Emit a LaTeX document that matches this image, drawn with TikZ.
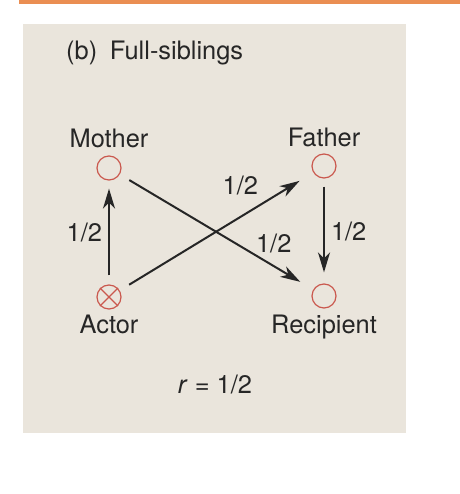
\documentclass[tikz,border=0pt]{standalone}
\usepackage{fontspec}
\setmainfont{TeX Gyre Heros}
\usetikzlibrary{calc,arrows.meta}
\definecolor{panel}{RGB}{234,229,220}
\definecolor{band}{RGB}{234,142,82}
\definecolor{ink}{RGB}{38,38,38}
\definecolor{ring}{RGB}{202,88,78}

\begin{document}
\begin{tikzpicture}[x=1bp,y=-1bp,
  person/.style={circle,draw=ring,line width=1.2bp,minimum size=24bp,inner sep=0pt},
  gene/.style={line width=2bp,draw=ink,-{Stealth[length=20bp,width=12bp,inset=6bp]}},
  lbl/.style={text=ink,font=\fontsize{25.5}{30}\selectfont,inner sep=0pt,anchor=base}]
\useasboundingbox (0,0) rectangle (460,494);
\fill[band] (19,0) rectangle (460,4);
\fill[panel] (23,24) rectangle (406,433);
\node[lbl,anchor=base west] (title) at (66,60) {(b)\hspace{0.5em}Full-siblings};
% the four individuals
\node[person] (mother) at (109,168) {};
\node[person] (father) at (324,166) {};
\node[person] (actor) at (109,297) {};
\node[person] (recipient) at (324,296) {};
\draw[ring,line width=1.2bp] (actor.north east) -- (actor.south west)
  (actor.north west) -- (actor.south east);
\node[lbl] (motherlab) at ($(mother)+(0,-20)$) {Mother};
\node[lbl] (fatherlab) at ($(father)+(0,-19)$) {Father};
\node[lbl] (actorlab) at ($(actor)+(0,36)$) {Actor};
\node[lbl] (recipientlab) at ($(recipient)+(0,37)$) {Recipient};
% genes passed on
\draw[gene,shorten <=9bp,shorten >=8bp] (actor) --
  node[lbl,midway,anchor=east,xshift=-6bp] (amlab) {1/2} (mother);
\draw[gene,shorten <=8bp,shorten >=11bp] (father) --
  node[lbl,midway,anchor=west,xshift=6bp] (frlab) {1/2} (recipient);
\draw[gene,shorten <=11bp,shorten >=16bp] (actor) --
  node[lbl,pos=0.735,anchor=south east,xshift=-3bp,yshift=7.5bp] (aflab) {1/2} (father);
\draw[gene,shorten <=11bp,shorten >=15bp] (mother) --
  node[lbl,pos=0.71,anchor=south west,xshift=-2bp,yshift=2bp] (mrlab) {1/2} (recipient);
\node[lbl] (rlab) at (215,393) {\textit{r} = 1/2};
\end{tikzpicture}
\end{document}
